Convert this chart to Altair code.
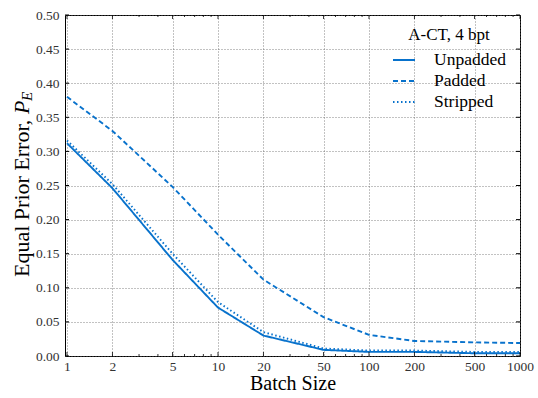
import altair as alt
import pandas as pd

# ---- data ----
batch_size = [1, 2, 5, 10, 20, 50, 100, 200, 500, 1000]
unpadded = [0.312, 0.246, 0.141, 0.071, 0.030, 0.009, 0.006, 0.006, 0.004, 0.004]
padded = [0.380, 0.330, 0.248, 0.178, 0.112, 0.057, 0.031, 0.022, 0.020, 0.019]
stripped = [0.316, 0.252, 0.150, 0.079, 0.035, 0.011, 0.008, 0.008, 0.006, 0.006]
series_names = ["Unpadded", "Padded", "Stripped"]

x_major = [1, 2, 5, 10, 20, 50, 100, 200, 500, 1000]
x_minor = [3, 4, 6, 7, 8, 9, 30, 40, 60, 70, 80, 90, 300, 400, 600, 700, 800, 900]
y_major = [0.0, 0.05, 0.10, 0.15, 0.20, 0.25, 0.30, 0.35, 0.40, 0.45, 0.50]

BLUE = "#0872CC"
FONT = "Liberation Serif"
W, H = 455, 341

rows = []
for name, vals in zip(series_names, [unpadded, padded, stripped]):
    for b, v in zip(batch_size, vals):
        rows.append({"Batch Size": b, "PE": v, "Series": name})
df = pd.DataFrame(rows)

xscale = alt.Scale(type="log", domain=[0.97, 1000], nice=False)
yscale = alt.Scale(domain=[0, 0.5], nice=False, zero=False)

xaxis = alt.Axis(values=x_major, title="Batch Size", format="d",
                 labelFlush=False, labelOverlap=False,
                 titleFontSize=20, titleFont=FONT, titleFontWeight="normal",
                 titleColor="black", titlePadding=1)
yaxis = alt.Axis(values=y_major, format=".2f", title=None,
                 labelOverlap=False, labelFlush=False)

lines = alt.Chart(df).mark_line(color=BLUE, strokeWidth=1.9).encode(
    x=alt.X("Batch Size:Q", scale=xscale, axis=xaxis),
    y=alt.Y("PE:Q", scale=yscale, axis=yaxis),
    strokeDash=alt.StrokeDash(
        "Series:N",
        scale=alt.Scale(domain=series_names, range=[[1, 0], [5, 3], [1.5, 2.5]]),
        legend=alt.Legend(title="A-CT, 4 bpt", orient="none", legendX=327, legendY=12,
                          symbolType="stroke", symbolSize=484,
                          symbolStrokeColor=BLUE, symbolStrokeWidth=1.9,
                          labelFont=FONT, labelFontSize=17.5, labelColor="black",
                          labelOffset=18, rowPadding=0, padding=0,
                          titleFont=FONT, titleFontSize=17, titleFontWeight="normal",
                          titleColor="black", titleAnchor="middle", titlePadding=4),
    ),
)

# inward tick marks (major and minor) on all four sides
ymaj = pd.DataFrame({"PE": y_major})
xmaj = pd.DataFrame({"Batch Size": x_major})
xmin = pd.DataFrame({"Batch Size": x_minor})

def yticks(x0, x1):
    return alt.Chart(ymaj).mark_rule(color="black", strokeWidth=1).encode(
        y=alt.Y("PE:Q", scale=yscale, axis=yaxis), x=alt.value(x0), x2=alt.value(x1))

def xticks(data, y0, y1):
    return alt.Chart(data).mark_rule(color="black", strokeWidth=0.8).encode(
        x=alt.X("Batch Size:Q", scale=xscale, axis=xaxis), y=alt.value(y0), y2=alt.value(y1))

ticks = [
    yticks(0, 4), yticks(W - 4, W),
    xticks(xmaj, H - 4, H), xticks(xmaj, 0, 4),
    xticks(xmin, H - 2, H), xticks(xmin, 0, 2),
]

# y-axis title with italic P and subscript E
ylab_x = -43
ylab = alt.Chart(pd.DataFrame({"t": ["Equal Prior Error,"]})).mark_text(
    angle=270, align="left", baseline="middle", font=FONT, fontSize=22, color="black"
).encode(text="t:N", x=alt.value(ylab_x), y=alt.value(262))
ylab_p = alt.Chart(pd.DataFrame({"t": ["P"]})).mark_text(
    angle=270, align="left", baseline="middle", font=FONT, fontSize=22,
    fontStyle="italic", color="black"
).encode(text="t:N", x=alt.value(ylab_x), y=alt.value(99))
ylab_e = alt.Chart(pd.DataFrame({"t": ["E"]})).mark_text(
    angle=270, align="left", baseline="middle", font=FONT, fontSize=15,
    fontStyle="italic", color="black"
).encode(text="t:N", x=alt.value(ylab_x + 5), y=alt.value(86))

chart = alt.layer(lines, *ticks, ylab, ylab_p, ylab_e).properties(
    width=W, height=H,
    autosize=alt.AutoSizeParams(type="none"),
    padding={"left": 65, "top": 15, "right": 18, "bottom": 42},
).configure(
    font=FONT
).configure_view(
    stroke="black", strokeWidth=1
).configure_axis(
    grid=True, gridColor="#666", gridDash=[1, 2], gridWidth=0.8,
    domain=False, ticks=False, tickSize=0, labelOverlap=False,
    labelFont=FONT, labelFontSize=13.5, labelColor="#333", labelPadding=6,
).configure_axisX(
    labelPadding=3,
).configure_legend(
    labelFont=FONT, titleFont=FONT
)

chart.save("out.html", embed_options={"renderer": "svg", "actions": False})
